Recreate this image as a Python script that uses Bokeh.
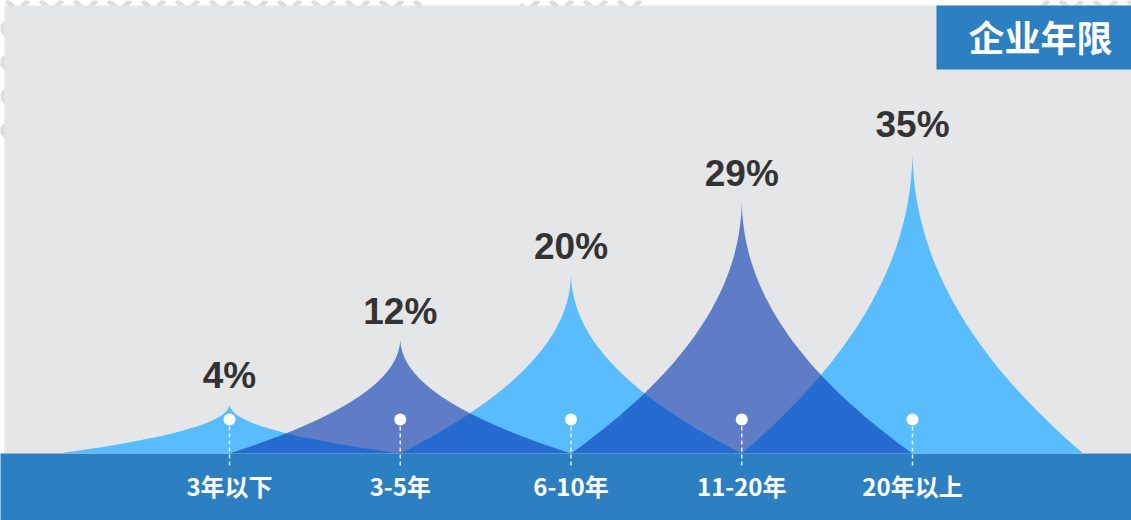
import numpy as np
from bokeh.plotting import figure
from bokeh.models import Range1d
from bokeh.core.properties import value
from bokeh.embed import file_html
from bokeh.resources import INLINE

# ---------------- data ----------------
categories = ["3年以下", "3-5年", "6-10年", "11-20年", "20年以上"]
values = [4, 12, 20, 29, 35]
value_labels = [f"{v}%" for v in values]
title_text = "企业年限"

# ---------------- layout / style ----------------
W, H = 1131, 520
X0_PX, DX_PX = 229.0, 170.75      # pixel of first category, spacing
BASE_PX, PX_PER_UNIT = 453.0, 8.1  # baseline pixel (from top), pixels per value unit
Y_MIN = -2.0                       # value axis minimum (at baseline)

LIGHT = "#58bcfd"
DARK = "#0535b0"
BAND = "#2c7fc1"
GRAY = "#e5e6e8"


def px_x(px):
    return (px - X0_PX) / DX_PX


def px_y(py):
    return Y_MIN + (BASE_PX - py) / PX_PER_UNIT


p = figure(width=W, height=H,
           x_range=Range1d(px_x(0), px_x(W)),
           y_range=Range1d(px_y(H), px_y(0)),
           x_axis_type=None, y_axis_type=None,
           output_backend="svg", toolbar_location=None, min_border=0)
p.grid.visible = False
p.outline_line_color = None
p.background_fill_color = "white"
p.border_fill_color = "white"

# ---------------- decorative lattice (outside the gray panel) ----------------
def clip_line(c, sign, box):
    # line: py = sign*px + c, clipped to box (x0,x1,y0,y1)
    x0, x1, y0, y1 = box
    pts = []
    for px in (x0, x1):
        py = sign * px + c
        if y0 <= py <= y1:
            pts.append((px, py))
    for py in (y0, y1):
        px = (py - c) * sign
        if x0 <= px <= x1:
            pts.append((px, py))
    pts = sorted(set(pts))
    if len(pts) >= 2:
        return pts[0], pts[-1]
    return None

lx, ly = [], []
boxes = [(0, 420, 0, 140), (520, 640, 0, 20), (1040, 1131, 0, 20)]
S = 34
for box in boxes:
    for sign in (1, -1):
        for c in np.arange(-1400, 1600, S):
            seg = clip_line(c, sign, box)
            if seg:
                (ax, ay), (bx, by) = seg
                lx.append([px_x(ax), px_x(bx)])
                ly.append([px_y(ay), px_y(by)])
p.multi_line(lx, ly, line_color="#dddddd", line_width=5)

# ---------------- gray panel + bottom band ----------------
p.quad(left=px_x(4), right=px_x(W + 2), top=px_y(5), bottom=px_y(BASE_PX),
       fill_color=GRAY, line_color=None)
p.quad(left=px_x(-2), right=px_x(W + 2), top=px_y(BASE_PX), bottom=px_y(H + 2),
       fill_color=BAND, line_color=None)

# ---------------- peaks ----------------
u = np.linspace(0, 1, 200)
def peak(i, v):
    half = 0.96 * (1 - u) ** 2.1 + 0.04 * (1 - u)
    ys_side = Y_MIN + u * (v - Y_MIN)
    xs = np.concatenate([i - half, (i + half)[::-1]])
    ys = np.concatenate([ys_side, ys_side[::-1]])
    return list(xs), list(ys)

idx = list(range(len(categories)))
light_x, light_y, dark_x, dark_y = [], [], [], []
for i, v in zip(idx, values):
    xs, ys = peak(i, v)
    if i % 2 == 0:
        light_x.append(xs); light_y.append(ys)
    else:
        dark_x.append(xs); dark_y.append(ys)
p.patches(light_x, light_y, fill_color=LIGHT, line_color=None)
p.patches(dark_x, dark_y, fill_color=DARK, fill_alpha=0.6, line_color=None)

# ---------------- markers ----------------
dot_y = px_y(419)
p.segment(x0=idx, y0=[dot_y] * len(idx), x1=idx, y1=[px_y(466)] * len(idx),
          line_color="white", line_alpha=0.85, line_width=1.5, line_dash="4 3")
p.scatter(x=idx, y=[dot_y] * len(idx), size=12, fill_color="white", line_color=None)

# ---------------- texts ----------------
p.text(x=idx, y=values, text=value_labels, text_font=value("Liberation Sans"),
       text_font_style="bold", text_font_size="37px", text_color="#333333",
       text_align="center", text_baseline="alphabetic", y_offset=-29)

p.text(x=idx, y=[px_y(485)] * len(idx), text=categories,
       text_font=value("Noto Sans CJK SC"), text_font_style="bold",
       text_font_size="24px", text_color="white",
       text_align="center", text_baseline="middle")

# ---------------- title box ----------------
p.quad(left=px_x(936), right=px_x(W + 2), top=px_y(5), bottom=px_y(69),
       fill_color=BAND, line_color=None)
p.text(x=[px_x(1040)], y=[px_y(35)], text=[title_text],
       text_font=value("Noto Sans CJK SC"), text_font_style="bold",
       text_font_size="36px", text_color="white",
       text_align="center", text_baseline="middle")

open("out.html", "w").write(file_html(p, INLINE))
